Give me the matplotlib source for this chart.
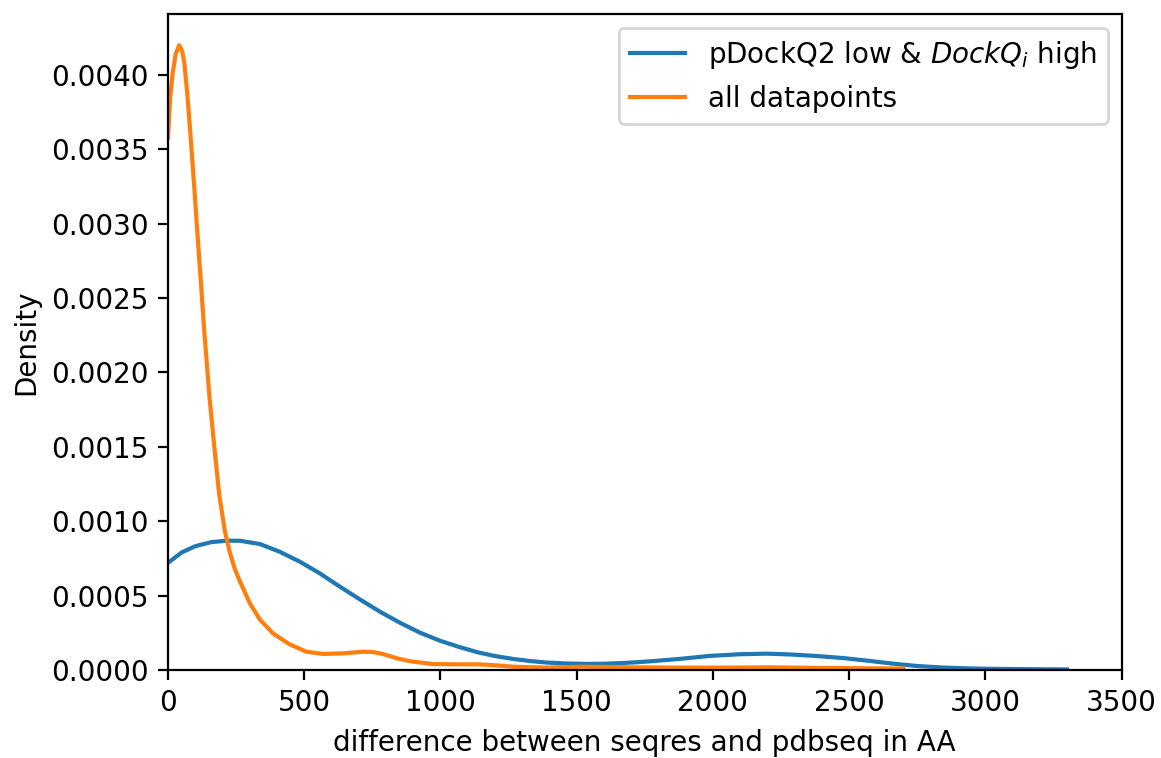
import matplotlib
matplotlib.use("Agg")
import matplotlib.pyplot as plt

# density curves (x in AA, y = density)
low_x = [0, 50, 97, 116, 160, 215, 263, 337, 410, 484, 557, 631, 704, 778, 851,
         925, 998, 1072, 1139, 1200, 1268, 1330, 1390, 1460, 1537, 1600, 1659,
         1720, 1782, 1880, 1990, 2100, 2198, 2290, 2382, 2480, 2566, 2660, 2749,
         2840, 2933, 3020, 3117, 3210, 3300]
low_y = [0.00072, 0.00079, 0.00083, 0.00084, 0.00086, 0.000869, 0.000869,
         0.000847, 0.000795, 0.000728, 0.00065, 0.00056, 0.000475, 0.000392,
         0.000318, 0.000251, 0.000197, 0.000153, 0.000118, 0.000094, 0.000074,
         0.00006, 0.00005, 0.000044, 0.000041, 0.000042, 0.000046, 0.000052,
         0.00006, 0.000075, 0.000095, 0.000106, 0.00011, 0.000104, 0.000094,
         0.00008, 0.000063, 0.000043, 0.000027, 0.000017, 0.000011, 0.000008,
         0.000006, 0.000005, 0.000004]

all_x = [0, 8, 17, 28, 41, 52, 60, 72, 84, 97, 109, 121, 133, 152, 170, 188,
         208, 227, 245, 263, 300, 337, 386, 447, 508, 569, 643, 690, 716, 750,
         778, 810, 839, 870, 900, 974, 1060, 1139, 1200, 1268, 1390, 1513, 1696,
         1880, 2050, 2200, 2400, 2600, 2700]
all_y = [0.00358, 0.00385, 0.00401, 0.00414, 0.0042, 0.00416, 0.00408, 0.00385,
         0.00356, 0.00323, 0.00291, 0.0026, 0.00228, 0.00184, 0.0015, 0.00118,
         0.00094, 0.00079, 0.00068, 0.0006, 0.00045, 0.00034, 0.000245,
         0.000172, 0.000123, 0.000108, 0.000112, 0.000119, 0.000123, 0.000121,
         0.000112, 0.000096, 0.000079, 0.000066, 0.000056, 0.00004, 0.000038,
         0.000038, 0.000032, 0.000022, 0.000016, 0.000022, 0.000018, 0.000016,
         0.000016, 0.000018, 0.000014, 0.000011, 0.00001]

fig = plt.figure(figsize=(11.61 / 2, 7.58 / 2), dpi=200)
ax = fig.add_axes([168 / 1161, 1 - 670 / 758, (1121.5 - 168) / 1161, (670 - 14) / 758])

ax.plot(low_x, low_y, color="#1f77b4", lw=1.5, label="pDockQ2 low & $DockQ_i$ high")
ax.plot(all_x, all_y, color="#ff7f0e", lw=1.5, label="all datapoints")

ax.set_xlim(0, 3500)
ax.set_ylim(0, 0.0042 * 1.05)
ax.set_xlabel("difference between seqres and pdbseq in AA")
ax.set_ylabel("Density")
ax.legend(loc="upper right")

fig.savefig("out.png", dpi=200)
